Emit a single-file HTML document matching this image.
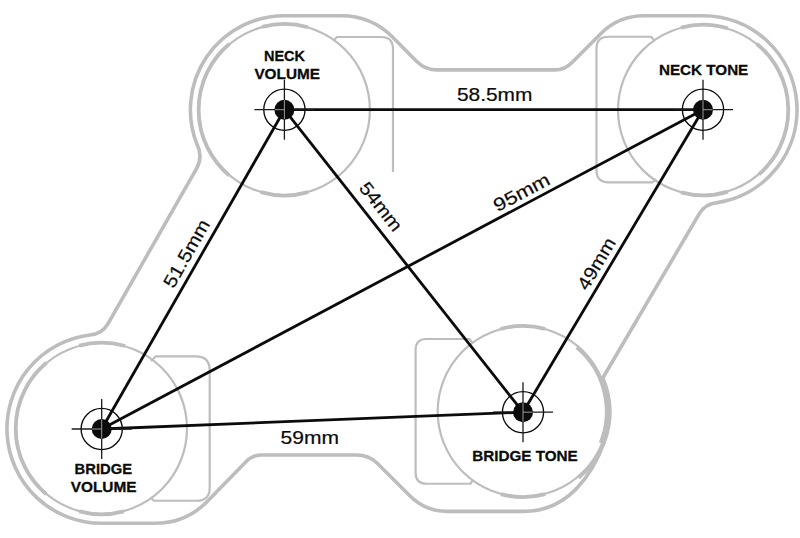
<!DOCTYPE html>
<html><head><meta charset="utf-8"><style>
html,body{margin:0;padding:0;background:#fff;}
body{width:800px;height:538px;overflow:hidden;font-family:"Liberation Sans",sans-serif;}
svg{display:block;}
</style></head><body>
<svg width="800" height="538" viewBox="0 0 800 538">
<rect width="800" height="538" fill="#fff"/>
<path d="M 284.40 15.70 L 341.25 15.75 Q 371.25 15.75 392.5 37 L 416.5 61.2 Q 425.2 69.9 437 69.9 L 555 69.9 Q 565 69.9 572 62.5 L 601 33.4 Q 618.75 15.75 643.75 15.75 L 703.00 15.70 A 94.0 94.0 0 0 1 717.22 202.62 Q 705.3 203.6 699.2 213.9 L 602.8 378 A 86.7 86.7 0 0 1 604.47 441.65 C 592.5 474.55 568 511.4 524 511.4 L 447.4 511.4 Q 425.4 511.4 409.8 495.8 L 377 463 Q 368.5 455 356.5 455 L 261 455 Q 252.5 455.2 246 461.8 L 206.7 502 Q 185.5 523.25 155.5 523.25 L 101.50 523.25 A 94.5 94.5 0 0 1 89.82 334.97 Q 101.9 334.3 107.9 323.9 L 196.1 169.4 Q 203.2 157.3 197.2 144.8 A 94.0 94.0 0 0 1 284.40 15.70 Z" fill="none" stroke="#bdbdbd" stroke-width="3.6" stroke-linejoin="round"/>
<circle cx="284.4" cy="109.7" r="85.5" fill="none" stroke="#bdbdbd" stroke-width="2.2"/>
<path d="M 229.25 175.43 A 85.8 85.8 0 0 1 229.25 43.97" fill="none" stroke="#bdbdbd" stroke-width="3.8"/>
<path d="M 262.19 26.82 A 85.8 85.8 0 0 1 308.05 27.22" fill="none" stroke="#bdbdbd" stroke-width="3.8"/>
<path d="M 308.05 192.18 A 85.8 85.8 0 0 1 260.75 192.18" fill="none" stroke="#bdbdbd" stroke-width="3.8"/>
<circle cx="703.0" cy="110.0" r="85.0" fill="none" stroke="#bdbdbd" stroke-width="2.2"/>
<path d="M 680.92 27.61 A 85.3 85.3 0 0 1 727.94 28.43" fill="none" stroke="#bdbdbd" stroke-width="3.8"/>
<path d="M 756.68 43.71 A 85.3 85.3 0 0 1 758.96 174.38" fill="none" stroke="#bdbdbd" stroke-width="3.8"/>
<path d="M 727.94 191.57 A 85.3 85.3 0 0 1 680.92 192.39" fill="none" stroke="#bdbdbd" stroke-width="3.8"/>
<circle cx="101.5" cy="428.5" r="85.5" fill="none" stroke="#bdbdbd" stroke-width="2.2"/>
<path d="M 46.35 494.23 A 85.8 85.8 0 0 1 46.35 362.77" fill="none" stroke="#bdbdbd" stroke-width="3.8"/>
<path d="M 79.29 345.62 A 85.8 85.8 0 0 1 125.15 346.02" fill="none" stroke="#bdbdbd" stroke-width="3.8"/>
<path d="M 123.71 511.38 A 85.8 85.8 0 0 1 79.29 511.38" fill="none" stroke="#bdbdbd" stroke-width="3.8"/>
<circle cx="523.0" cy="411.5" r="85.3" fill="none" stroke="#bdbdbd" stroke-width="2.2"/>
<path d="M 500.85 328.82 A 85.6 85.6 0 0 1 545.15 328.82" fill="none" stroke="#bdbdbd" stroke-width="3.8"/>
<path d="M 545.15 494.18 A 85.6 85.6 0 0 1 500.85 494.18" fill="none" stroke="#bdbdbd" stroke-width="3.8"/>
<path d="M 576.80 347.38 A 83.7 83.7 0 0 1 600.61 442.85" fill="none" stroke="#bdbdbd" stroke-width="3.8"/>
<path d="M 604.28 441.08 A 86.5 86.5 0 0 1 578.60 477.76" fill="none" stroke="#bdbdbd" stroke-width="3.8"/>
<path d="M 333.5 40.5 L 337 37 L 381 37 Q 393 37 393 49 L 393 172" fill="none" stroke="#bdbdbd" stroke-width="2.2" stroke-linejoin="round"/>
<path d="M 654 40 L 651 36.75 L 608.5 36.75 Q 596.5 36.75 596.5 48.75 L 596.5 170.3 Q 596.5 182.3 608.5 182.3 L 652.5 182.3 L 656 179" fill="none" stroke="#bdbdbd" stroke-width="2.2" stroke-linejoin="round"/>
<path d="M 151 361 L 155.5 356.4 L 195.7 356.4 Q 209.7 356.4 209.7 370.4 L 209.7 487.75 Q 209.7 500.75 196.7 500.75 L 154 500.75 L 151 498" fill="none" stroke="#bdbdbd" stroke-width="2.2" stroke-linejoin="round"/>
<path d="M 472.5 343 L 469.4 339 L 426.6 339 Q 415.6 339 415.6 350 L 415.6 472.75 Q 415.6 483.75 426.6 483.75 L 470.4 483.75 L 473 480" fill="none" stroke="#bdbdbd" stroke-width="2.2" stroke-linejoin="round"/>
<line x1="284.4" y1="109.7" x2="703.0" y2="109.7" stroke="#0b0b0b" stroke-width="2.8"/>
<line x1="284.4" y1="109.7" x2="101.7" y2="429.0" stroke="#0b0b0b" stroke-width="2.8"/>
<line x1="284.4" y1="109.7" x2="523.0" y2="412.2" stroke="#0b0b0b" stroke-width="2.8"/>
<line x1="101.7" y1="429.0" x2="703.0" y2="109.7" stroke="#0b0b0b" stroke-width="2.8"/>
<line x1="101.7" y1="429.0" x2="523.0" y2="412.2" stroke="#0b0b0b" stroke-width="2.8"/>
<line x1="523.0" y1="412.2" x2="703.0" y2="109.7" stroke="#0b0b0b" stroke-width="2.8"/>
<circle cx="284.4" cy="109.7" r="20.6" fill="none" stroke="#0b0b0b" stroke-width="1.35"/>
<line x1="254.4" y1="109.7" x2="314.4" y2="109.7" stroke="#1a1a1a" stroke-width="1.3"/>
<line x1="284.4" y1="79.7" x2="284.4" y2="139.7" stroke="#1a1a1a" stroke-width="1.3"/>
<circle cx="284.4" cy="109.7" r="10" fill="#0b0b0b"/>
<line x1="284.4" y1="100.2" x2="284.4" y2="119.2" stroke="#9a9a9a" stroke-width="1"/>
<line x1="284.4" y1="109.7" x2="274.9" y2="109.7" stroke="#9a9a9a" stroke-width="1"/>
<circle cx="703.0" cy="109.7" r="20.6" fill="none" stroke="#0b0b0b" stroke-width="1.35"/>
<line x1="673.0" y1="109.7" x2="733.0" y2="109.7" stroke="#1a1a1a" stroke-width="1.3"/>
<line x1="703.0" y1="79.7" x2="703.0" y2="139.7" stroke="#1a1a1a" stroke-width="1.3"/>
<circle cx="703.0" cy="109.7" r="10" fill="#0b0b0b"/>
<line x1="703.0" y1="100.2" x2="703.0" y2="119.2" stroke="#9a9a9a" stroke-width="1"/>
<line x1="703.0" y1="109.7" x2="712.5" y2="109.7" stroke="#9a9a9a" stroke-width="1"/>
<circle cx="101.7" cy="429.0" r="20.6" fill="none" stroke="#0b0b0b" stroke-width="1.35"/>
<line x1="71.7" y1="429.0" x2="131.7" y2="429.0" stroke="#1a1a1a" stroke-width="1.3"/>
<line x1="101.7" y1="399.0" x2="101.7" y2="459.0" stroke="#1a1a1a" stroke-width="1.3"/>
<circle cx="101.7" cy="429.0" r="10" fill="#0b0b0b"/>
<line x1="101.7" y1="419.5" x2="101.7" y2="438.5" stroke="#9a9a9a" stroke-width="1"/>
<line x1="101.7" y1="429.0" x2="92.2" y2="429.0" stroke="#9a9a9a" stroke-width="1"/>
<circle cx="523.0" cy="412.2" r="20.6" fill="none" stroke="#0b0b0b" stroke-width="1.35"/>
<line x1="493.0" y1="412.2" x2="553.0" y2="412.2" stroke="#1a1a1a" stroke-width="1.3"/>
<line x1="523.0" y1="382.2" x2="523.0" y2="442.2" stroke="#1a1a1a" stroke-width="1.3"/>
<circle cx="523.0" cy="412.2" r="10" fill="#0b0b0b"/>
<line x1="523.0" y1="402.7" x2="523.0" y2="421.7" stroke="#9a9a9a" stroke-width="1"/>
<line x1="523.0" y1="412.2" x2="532.5" y2="412.2" stroke="#9a9a9a" stroke-width="1"/>
<g font-family="Liberation Sans, sans-serif" fill="#0b0b0b">
<g stroke="#0b0b0b" stroke-width="0.3">
<text x="264.0" y="61.0" font-size="15.5" font-weight="bold" textLength="41.0" lengthAdjust="spacingAndGlyphs">NECK</text>
<text x="254.4" y="78.5" font-size="15.5" font-weight="bold" textLength="65.6" lengthAdjust="spacingAndGlyphs">VOLUME</text>
<text x="658.9" y="75.3" font-size="15.5" font-weight="bold" textLength="89.4" lengthAdjust="spacingAndGlyphs">NECK TONE</text>
<text x="74.6" y="474.0" font-size="15.5" font-weight="bold" textLength="57.4" lengthAdjust="spacingAndGlyphs">BRIDGE</text>
<text x="70.7" y="492.0" font-size="15.5" font-weight="bold" textLength="65.8" lengthAdjust="spacingAndGlyphs">VOLUME</text>
<text x="472.2" y="461.4" font-size="15.5" font-weight="bold" textLength="105.6" lengthAdjust="spacingAndGlyphs">BRIDGE TONE</text>
</g><g stroke="#0b0b0b" stroke-width="0.2">
<text x="456.9" y="101.2" font-size="18.5" textLength="75.6" lengthAdjust="spacingAndGlyphs">58.5mm</text>
<text x="280.5" y="443.5" font-size="18.5" textLength="58.5" lengthAdjust="spacingAndGlyphs">59mm</text>
<text transform="translate(173.42 289.15) rotate(-60.22)" font-size="18.5" textLength="75.0" lengthAdjust="spacingAndGlyphs">51.5mm</text>
<text transform="translate(358.37 188.14) rotate(51.74)" font-size="18.5" textLength="57.0" lengthAdjust="spacingAndGlyphs">54mm</text>
<text transform="translate(587.32 291.40) rotate(-59.25)" font-size="18.5" textLength="57.0" lengthAdjust="spacingAndGlyphs">49mm</text>
<text transform="translate(497.62 212.31) rotate(-27.97)" font-size="18.5" textLength="61.0" lengthAdjust="spacingAndGlyphs">95mm</text>
</g></g>
</svg>
</body></html>
